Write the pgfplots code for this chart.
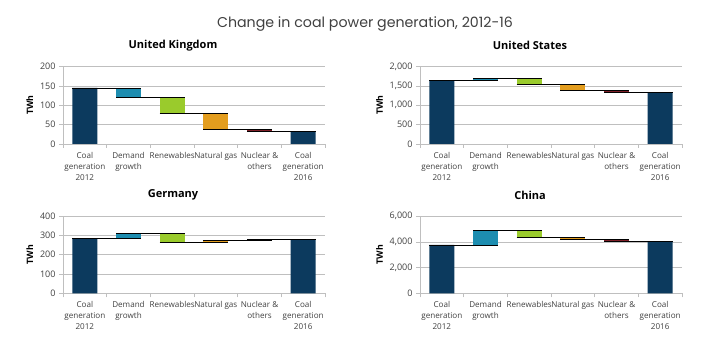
\documentclass[border=0pt]{standalone}
\usepackage{pgfplots}
\pgfplotsset{compat=1.18}
\usepackage{pgfplotstable}
\usepackage{fontspec}
\setmainfont{Open Sans}
\newfontfamily\titlefont{Poppins}
\definecolor{coal}{HTML}{0C3A5E}
\definecolor{demand}{HTML}{1D8DB0}
\definecolor{renew}{HTML}{9ACB2C}
\definecolor{gas}{HTML}{E39D1E}
\definecolor{nuclear}{HTML}{7E1F28}
\definecolor{gridc}{HTML}{BFBFBF}
\definecolor{txt}{HTML}{404040}

% floating bars: base (invisible) + height in the column of its colour
\pgfplotstableread{
x base coal demand renew gas nuclear
0 0    145 0  0  0  0
1 120  0   25 0  0  0
2 78   0   0  42 0  0
3 37   0   0  0  41 0
4 33   0   0  0  0  4
5 0    33  0  0  0  0
}\ukdata
\pgfplotstableread{
x base coal demand renew gas nuclear
0 0    1640 0  0   0   0
1 1640 0    50 0   0   0
2 1545 0    0  145 0   0
3 1380 0    0  0   165 0
4 1330 0    0  0   0   50
5 0    1330 0  0   0   0
}\usdata
\pgfplotstableread{
x base coal demand renew gas nuclear
0 0    286 0  0  0  0
1 286  0   26 0  0  0
2 263  0   0  49 0  0
3 263  0   0  0  12 0
4 275  0   0  0  0  3
5 0    278 0  0  0  0
}\dedata
\pgfplotstableread{
x base coal demand renew gas nuclear
0 0    3760 0    0   0   0
1 3760 0    1130 0   0   0
2 4350 0    0    540 0   0
3 4160 0    0    0   190 0
4 4020 0    0    0   0   140
5 0    4020 0    0   0   0
}\cndata

\pgfplotsset{
  geom/.style={scale only axis, width=262pt, height=77.5pt,
    xmin=-0.5, xmax=5.5, ymin=0, anchor=south west},
  wf/.style={geom, ybar stacked, bar width=0.57,
    axis x line*=bottom, axis y line*=left,
    axis line style={draw=gridc, line width=0.6pt, -},
    ymajorgrids, grid style={draw=gridc, line width=0.6pt},
    tick align=outside, major tick length=4pt,
    tick style={draw=gridc, line width=0.6pt},
    xtick={-0.5,0.5,1.5,2.5,3.5,4.5,5.5}, xticklabels={,,,,,,,},
    extra x ticks={0,1,2,3,4,5},
    extra x tick labels={{Coal\\generation\\2012},{Demand\\growth},{Renewables},{Natural gas},{Nuclear \&\\others},{Coal\\generation\\2016}},
    extra x tick style={major tick length=0pt},
    xticklabel style={align=center, font=\fontsize{8.1}{11}\selectfont, text=txt, anchor=north, yshift=-4.5pt},
    yticklabel style={font=\fontsize{9}{10}\selectfont, text=txt},
    /pgf/number format/assume math mode=true,
    /pgf/number format/1000 sep={,},
    scaled y ticks=false,
    ylabel={TWh}, ylabel style={font=\bfseries\fontsize{8.8}{10}\selectfont, text=black},
    title style={at={(axis description cs:0.5,1)}, anchor=center, xshift=-21pt, yshift=15pt,
      font=\bfseries\fontsize{11}{13}\selectfont, text=black},
  },
  wfline/.style={geom, hide axis, unbounded coords=jump},
}
\newcommand{\wfbars}[1]{%
  \addplot[draw=none, fill=none] table[x=x,y=base]{#1};
  \addplot[draw=none, fill=coal] table[x=x,y=coal]{#1};
  \addplot[draw=none, fill=demand] table[x=x,y=demand]{#1};
  \addplot[draw=none, fill=renew] table[x=x,y=renew]{#1};
  \addplot[draw=none, fill=gas] table[x=x,y=gas]{#1};
  \addplot[draw=none, fill=nuclear] table[x=x,y=nuclear]{#1};
}

\begin{document}
\begin{tikzpicture}
\useasboundingbox (0pt,0pt) rectangle (701pt,345pt);
\node[font=\titlefont\fontsize{14.2}{16}\selectfont, text=txt] at (365pt,321pt) {Change in coal power generation, 2012-16};

% United Kingdom
\begin{axis}[wf, at={(63pt,201pt)}, ymax=200, ytick={0,50,...,200}, title={United Kingdom}]
\wfbars{\ukdata}
\end{axis}
\begin{axis}[wfline, at={(63pt,201pt)}, ymax=200]
\addplot[black, line width=0.6pt, no marks] coordinates {
(-0.285,145) (1.285,145) (nan,nan)
(0.715,120) (2.285,120) (nan,nan)
(1.715,78) (3.285,78) (nan,nan)
(2.715,37) (4.285,37) (nan,nan)
(3.715,33) (5.285,33)};
\end{axis}

% United States
\begin{axis}[wf, at={(420pt,201pt)}, ymax=2000, ytick={0,500,...,2000}, title={United States}]
\wfbars{\usdata}
\end{axis}
\begin{axis}[wfline, at={(420pt,201pt)}, ymax=2000]
\addplot[black, line width=0.6pt, no marks] coordinates {
(-0.285,1640) (1.285,1640) (nan,nan)
(0.715,1690) (2.285,1690) (nan,nan)
(1.715,1545) (3.285,1545) (nan,nan)
(2.715,1380) (4.285,1380) (nan,nan)
(3.715,1330) (5.285,1330)};
\end{axis}

% Germany
\begin{axis}[wf, at={(63pt,51.5pt)}, ymax=400, ytick={0,100,...,400}, title={Germany}]
\wfbars{\dedata}
\end{axis}
\begin{axis}[wfline, at={(63pt,51.5pt)}, ymax=400]
\addplot[black, line width=0.6pt, no marks] coordinates {
(-0.285,286) (1.285,286) (nan,nan)
(0.715,312) (2.285,312) (nan,nan)
(1.715,263) (3.285,263) (nan,nan)
(2.715,275) (4.285,275) (nan,nan)
(3.715,278) (5.285,278)};
\end{axis}

% China
\begin{axis}[wf, at={(420pt,51.5pt)}, ymax=6000, ytick={0,2000,4000,6000}, title={China}]
\wfbars{\cndata}
\end{axis}
\begin{axis}[wfline, at={(420pt,51.5pt)}, ymax=6000]
\addplot[black, line width=0.6pt, no marks] coordinates {
(-0.285,3760) (1.285,3760) (nan,nan)
(0.715,4890) (2.285,4890) (nan,nan)
(1.715,4350) (3.285,4350) (nan,nan)
(2.715,4160) (4.285,4160) (nan,nan)
(3.715,4020) (5.285,4020)};
\end{axis}
\end{tikzpicture}
\end{document}
